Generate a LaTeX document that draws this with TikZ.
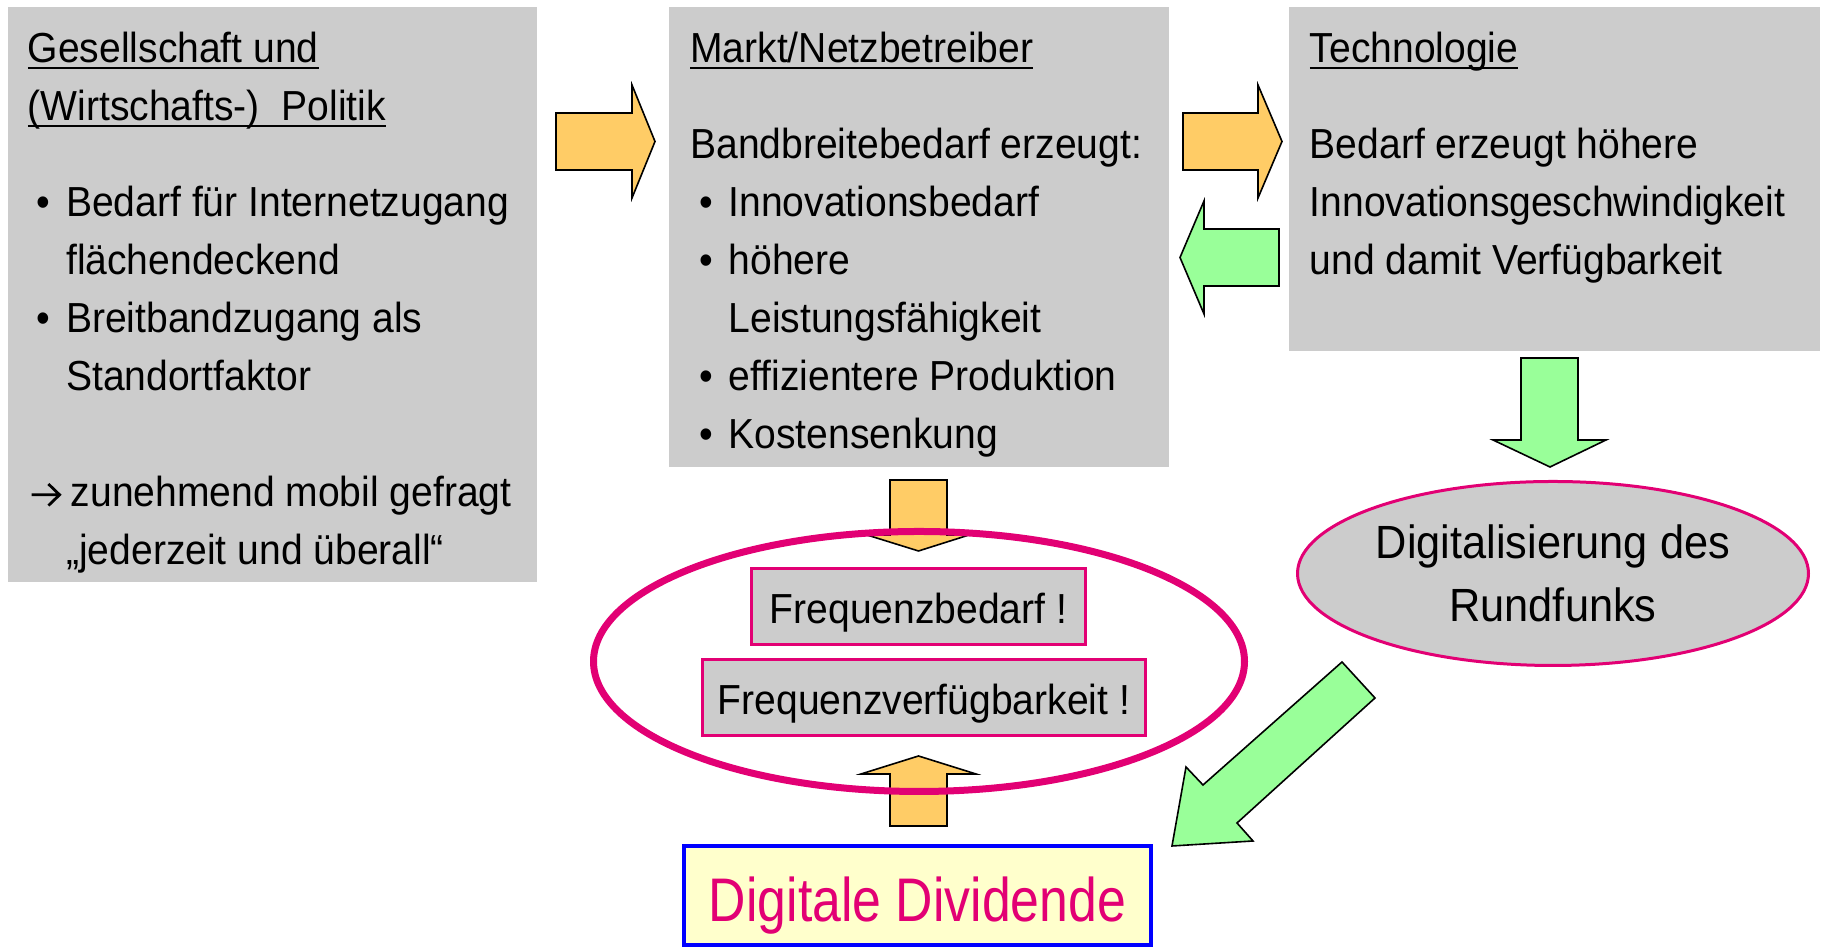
\documentclass[tikz,border=0pt]{standalone}
\usepackage{fontspec}
\setmainfont{Liberation Sans}[FakeStretch=0.93]
\newfontfamily\ddfont{Liberation Sans}[FakeStretch=0.84]
\usetikzlibrary{shapes.geometric}
\definecolor{grau}{HTML}{CCCCCC}
\definecolor{orng}{HTML}{FFCC66}
\definecolor{grn}{HTML}{99FF99}
\definecolor{mag}{HTML}{E20074}
\definecolor{blau}{HTML}{0000FF}
\definecolor{gelb}{HTML}{FFFFCC}
\newcommand\bfnt{\fontsize{10.5}{14.5}\selectfont}
\newcommand\bpkt{\makebox[9.6pt][l]{\hspace{2.2pt}\textbullet}}
\newcommand\einr{\hspace*{9.6pt}}
\newcommand\kopf[1]{\setbox0\hbox{#1}\rlap{\rule[-1.6pt]{\wd0}{0.6pt}}\box0}
\newcommand\pfl{\tikz[baseline=-3pt]\draw[line width=0.7pt, line join=miter] (0pt,0pt) -- (7pt,0pt) (4.2pt,2.7pt) -- (7pt,0pt) -- (4.2pt,-2.7pt);}

\begin{document}
\begin{tikzpicture}[x=0.25pt, y=-0.25pt,
        gbox/.style={fill=grau, anchor=north west, inner sep=0},
        txt/.style={anchor=north west, inner sep=0, align=left, font=\bfnt},
        fbox/.style={fill=grau, draw=mag, line width=0.75pt, minimum height=19pt, inner sep=0, font=\bfnt, text height=10pt, text depth=1.5pt},
        oarr/.style={fill=orng, draw=black, line width=0.4pt},
        garr/.style={fill=grn, draw=black, line width=0.4pt}]
    \useasboundingbox (0,0) rectangle (1823,948);

    % graue Kaesten
    \node[gbox, minimum width=132.25pt, minimum height=143.75pt] (gesell) at (7,6) {};
    \node[gbox, minimum width=125pt, minimum height=115pt] (markt) at (668,6) {};
    \node[gbox, minimum width=132.75pt, minimum height=86pt] (techno) at (1288,6) {};

    \node[txt] (gesell txt) at (27,21.4) {\strut\kopf{Gesellschaft und}\\
        \kopf{(Wirtschafts-)\ \ Politik}\\[9.5pt]
        \bpkt Bedarf für Internetzugang\\
        \einr flächendeckend\\
        \bpkt Breitbandzugang als\\
        \einr Standortfaktor\\
        \mbox{}\\
        \makebox[10.75pt][l]{\hspace{0.6pt}\pfl}zunehmend mobil gefragt\\
        \einr„jederzeit und überall“};
    \node[txt] (markt txt) at (689.5,21.4) {\strut\kopf{Markt/Netzbetreiber}\\[9.5pt]
        Bandbreitebedarf erzeugt:\\
        \bpkt Innovationsbedarf\\
        \bpkt höhere\\
        \einr Leistungsfähigkeit\\
        \bpkt effizientere Produktion\\
        \bpkt Kostensenkung};
    \node[txt] (techno txt) at (1309,21.4) {\strut\kopf{Technologie}\\[9.5pt]
        Bedarf erzeugt höhere\\
        Innovationsgeschwindigkeit\\
        und damit Verfügbarkeit};

    % Pfeile
    \draw[oarr] (556,113) -- (632,113) -- (632,85) -- (655,141.5) -- (632,198) -- (632,170) -- (556,170) -- cycle;
    \draw[oarr] (1183,113) -- (1258,113) -- (1258,85) -- (1282,141.5) -- (1258,198) -- (1258,170) -- (1183,170) -- cycle;
    \draw[garr] (1279,229) -- (1204,229) -- (1204,201) -- (1180,257.5) -- (1204,314) -- (1204,286) -- (1279,286) -- cycle;
    \draw[garr] (1521,358) -- (1578,358) -- (1578,440) -- (1606,440) -- (1550,467) -- (1493,440) -- (1521,440) -- cycle;
    \draw[oarr] (890,480) -- (947,480) -- (947,535) -- (969,535) -- (918.5,551) -- (867,535) -- (890,535) -- cycle;
    \draw[oarr] (890,826) -- (947,826) -- (947,774) -- (976,774) -- (918.5,756) -- (861,774) -- (890,774) -- cycle;
    \draw[garr] (1342,662) -- (1375,698) -- (1237,823) -- (1253,841) -- (1172,846) -- (1186,767) -- (1203,785) -- cycle;

    \node[ellipse, fill=grau, draw=mag, line width=0.75pt, minimum width=127.75pt, minimum height=46pt, inner sep=0,
        align=center, font=\fontsize{11.65}{15.75}\selectfont] (digit) at (1553,573.5) {Digitalisierung des\\Rundfunks};

    \node[ellipse, draw=mag, line width=1.75pt, minimum width=162.75pt, minimum height=65pt, inner sep=0] (ring) at (919,661.5) {};
    \node[fbox, minimum width=83.5pt] (freqb) at (918.5,606.5) {Frequenzbedarf !};
    \node[fbox, minimum width=110.75pt] (freqv) at (924,697.5) {Frequenzverfügbarkeit !};

    \node[draw=blau, fill=gelb, line width=1pt, minimum width=116.75pt, minimum height=24.75pt, inner sep=0, text=mag,
        font=\ddfont\fontsize{15.4}{18}\selectfont, text height=16pt, text depth=2.75pt] (divid) at (917.5,895.5) {Digitale Dividende};
\end{tikzpicture}
\end{document}
